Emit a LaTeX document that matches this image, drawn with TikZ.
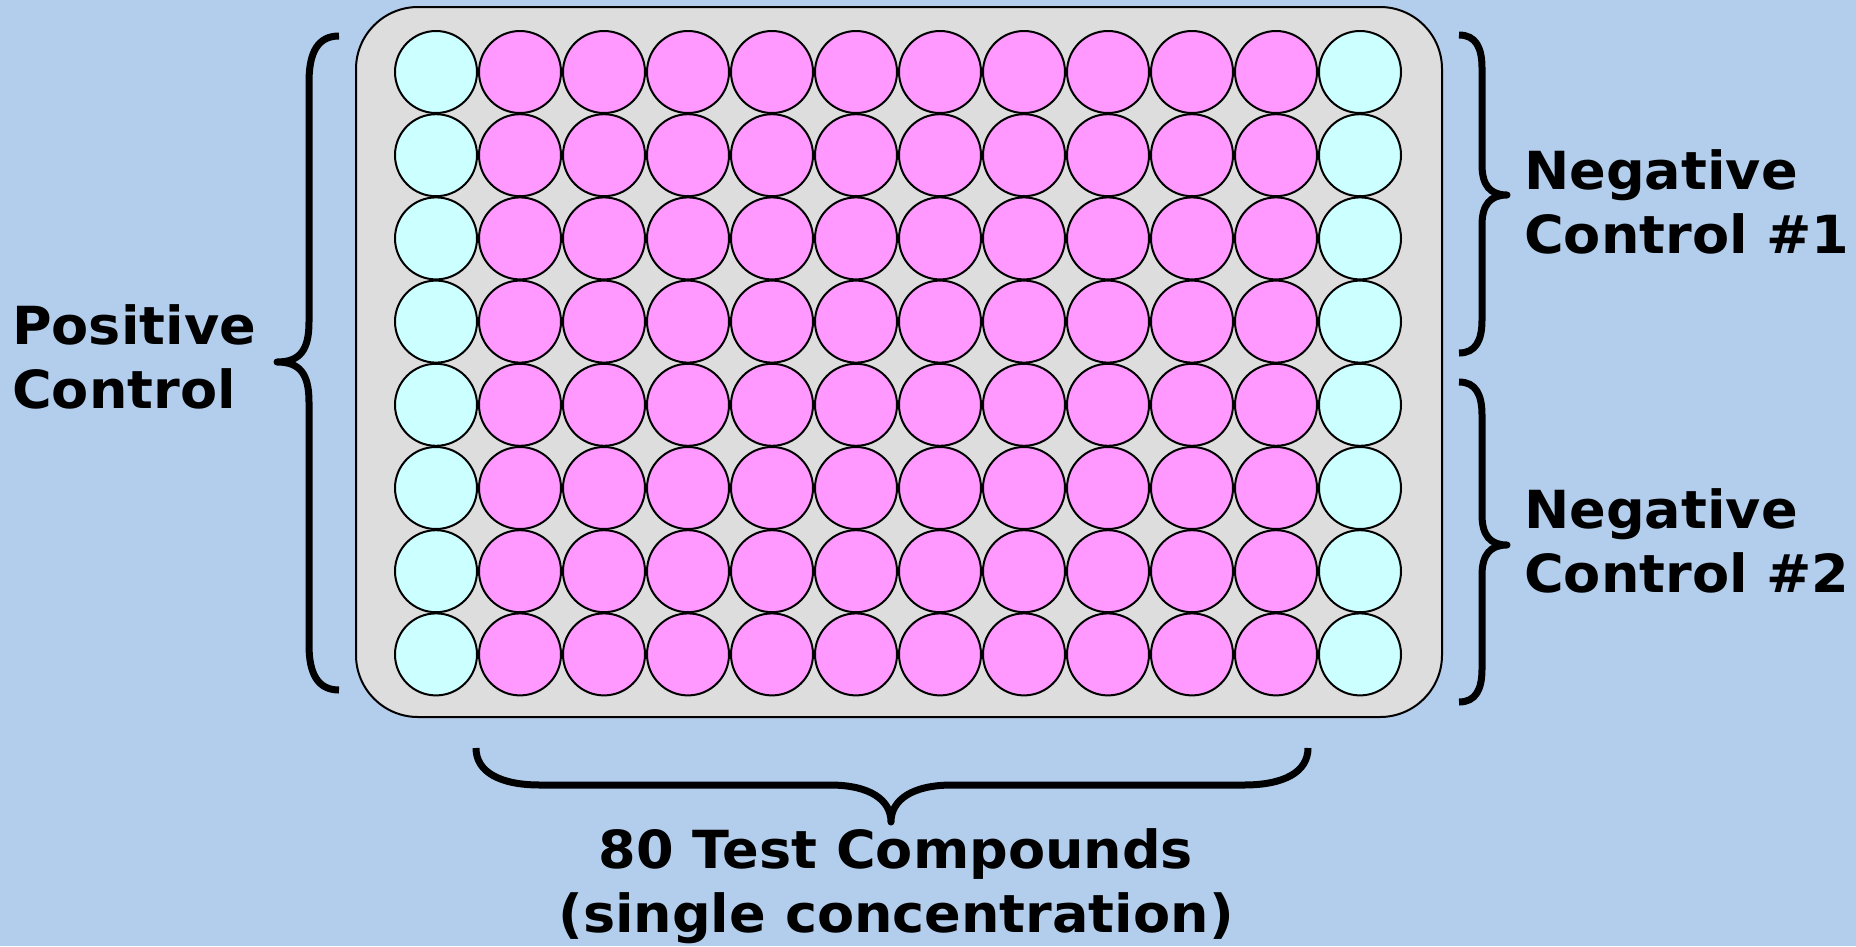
\documentclass[tikz,border=0pt]{standalone}
\usepackage{fontspec}
\setmainfont{DejaVu Sans}[BoldFeatures={FakeStretch=1.03}]
\definecolor{bgblue}{HTML}{B3CEEC}
\definecolor{plategray}{HTML}{DDDDDD}
\definecolor{wellpink}{HTML}{FF99FF}
\definecolor{wellcyan}{HTML}{CCFFFF}
\tikzset{
  plate/.style={draw=black, line width=2pt, fill=plategray, rounded corners=62pt,
    minimum width=1086pt, minimum height=710pt, inner sep=0pt},
  well/.style={circle, draw=black, line width=2pt, minimum size=82pt, inner sep=0pt},
  compound/.style={well, fill=wellpink},
  ctrl/.style={well, fill=wellcyan},
  brace/.style={draw=black, line width=7pt, line cap=butt, line join=round},
  lbl/.style={font=\fontsize{52.5}{64}\selectfont\bfseries, inner sep=0pt}
}
\begin{document}
\begin{tikzpicture}[x=1pt,y=-1pt]
\fill[bgblue] (0,0) rectangle (1856,946);
\useasboundingbox (0,0) rectangle (1856,946);
\node[plate] (plate) at (899,362) {};
\foreach \r in {1,...,8}{
  \foreach \c in {1,12}{
    \node[ctrl] (w-\r-\c) at ({436+84*(\c-1)},{72+83.2*(\r-1)}) {};
  }
  \foreach \c in {2,...,11}{
    \node[compound] (w-\r-\c) at ({436+84*(\c-1)},{72+83.2*(\r-1)}) {};
  }
}
% left brace (positive control)
\draw[brace] (339,36) .. controls (318,36) and (309,52) .. (309,82)
  -- (309,322) .. controls (309,350) and (300,362) .. (277,362)
  .. controls (300,362) and (309,374) .. (309,402)
  -- (309,645) .. controls (309,674) and (318,690) .. (339,690);
% right brace 1
\draw[brace] (1459,35) .. controls (1476,35) and (1482,48) .. (1482,68)
  -- (1482,165) .. controls (1482,185) and (1490,195) .. (1507,195)
  .. controls (1490,195) and (1482,205) .. (1482,225)
  -- (1482,320) .. controls (1482,340) and (1476,353) .. (1459,353);
% right brace 2
\draw[brace] (1459,382) .. controls (1476,382) and (1482,395) .. (1482,415)
  -- (1482,515) .. controls (1482,535) and (1490,545) .. (1507,545)
  .. controls (1490,545) and (1482,555) .. (1482,575)
  -- (1482,669) .. controls (1482,689) and (1476,702) .. (1459,702);
% bottom brace
\draw[brace] (476,748) .. controls (476,772) and (500,785) .. (540,785)
  -- (830,785) .. controls (870,785) and (891,800) .. (891,822)
  .. controls (891,800) and (912,785) .. (952,785)
  -- (1244,785) .. controls (1284,785) and (1308,772) .. (1308,748);
\node[lbl, align=left, anchor=west] (pos) at (12,357) {Positive\\Control};
\node[lbl, align=left, anchor=west] (neg1) at (1524,202) {Negative\\Control \#1};
\node[lbl, align=left, anchor=west] (neg2) at (1524,541) {Negative\\Control \#2};
\node[lbl, align=center, anchor=center] (test) at (896,886) {80 Test Compounds\\(single concentration)};
\end{tikzpicture}
\end{document}
